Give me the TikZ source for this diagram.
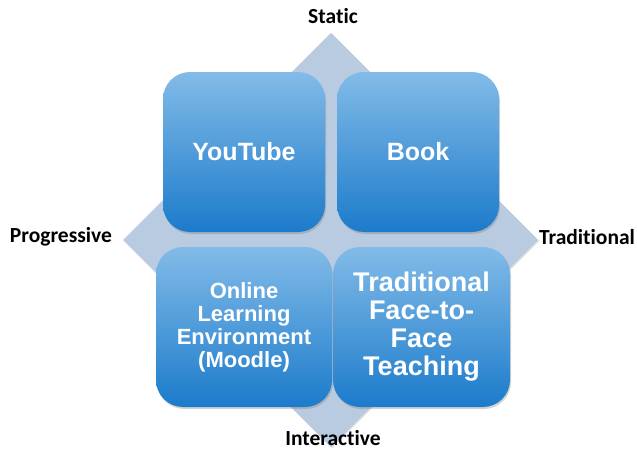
\documentclass[tikz,border=0pt]{standalone}
\usepackage{fontspec}
\setmainfont{Liberation Sans}
\newfontfamily\axisfont[Ligatures=NoCommon]{Carlito}
\usepackage{xcolor}
\usetikzlibrary{shadows}
\usetikzlibrary{positioning}

\definecolor{diamondblue}{HTML}{B9CBE0}
\definecolor{boxtop}{HTML}{82BBE8}
\definecolor{boxbottom}{HTML}{1C7BCB}

\tikzset{
  quadbox/.style={rounded corners=27pt, inner sep=0pt, align=center,
    top color=boxtop, bottom color=boxbottom, text=white,
    font=\bfseries\fontsize{25}{28}\selectfont,
    drop shadow={shadow xshift=1pt, shadow yshift=-2pt, opacity=0.35}},
  axislabel/.style={inner sep=1pt, font=\axisfont\bfseries\fontsize{21.5}{23}\selectfont}
}

\begin{document}
\begin{tikzpicture}[x=1pt,y=1pt]
  \useasboundingbox (0,0) rectangle (637,451);
  \coordinate (top) at (331, 418);
  \coordinate (left) at (123, 211);
  \coordinate (right) at (538, 211);
  \coordinate (bottom) at (331, 4);
  \fill[diamondblue, drop shadow={shadow xshift=1pt, shadow yshift=-1pt, opacity=0.25}]
    (top) -- (right) -- (bottom) -- (left) -- cycle;

  \node[quadbox, minimum width=162pt, minimum height=160pt] (youtube) at (244, 299) {YouTube};
  \node[quadbox, minimum width=162pt, minimum height=160pt] (book) at (418, 299) {Book};
  \node[quadbox, minimum width=176pt, minimum height=160pt,
    font=\bfseries\fontsize{22}{23}\selectfont] (online) at (244, 124)
    {Online\\Learning\\Environment\\(Moodle)};
  \node[quadbox, minimum width=177pt, minimum height=160pt,
    font=\bfseries\fontsize{27}{28}\selectfont] (facetoface) at (421.5, 124)
    {Traditional\\Face-to-\\Face\\Teaching};

  \node[axislabel] (static) at (333, 435) {Static};
  \node[axislabel] (progressive) at (61, 214) {Progressive};
  \node[axislabel] (traditional) at (587, 214) {Traditional};
  \node[axislabel] (interactive) at (333, 13) {Interactive};
\end{tikzpicture}
\end{document}
